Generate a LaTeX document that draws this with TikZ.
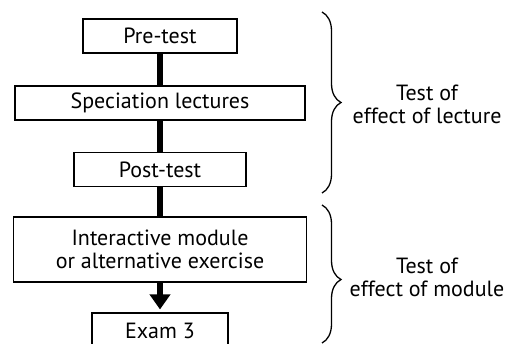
\documentclass[tikz,border=0pt]{standalone}
\usepackage{fontspec}
\setmainfont{PT Sans}
\usetikzlibrary{arrows.meta,decorations.pathreplacing}

\tikzset{
  stagebox/.style={draw, line width=1.1pt, inner sep=0pt, minimum height=34pt,
    align=center, font=\fontsize{22}{23}\selectfont},
  flowline/.style={line width=6pt},
  sidebrace/.style={decorate, decoration={brace, amplitude=19pt}, line width=1.3pt},
  notetext/.style={align=center, font=\fontsize{22}{23}\selectfont},
}

\begin{document}
\begin{tikzpicture}[x=1pt,y=-1pt]
\useasboundingbox (0,0) rectangle (513,344);

% stages of the study
\node[stagebox, minimum width=154pt] (pretest) at (160,36) {Pre-test};
\node[stagebox, minimum width=290pt] (lectures) at (160,103) {Speciation lectures};
\node[stagebox, minimum width=172pt] (posttest) at (160,169.5) {Post-test};
\node[stagebox, minimum width=293pt, minimum height=65pt] (module) at (160,249.5) {Interactive module\\or alternative exercise};
\node[stagebox, minimum width=136pt, minimum height=36pt] (exam) at (160,331) {Exam 3};

% connectors
\draw[flowline] (pretest) -- (lectures);
\draw[flowline] (lectures) -- (posttest);
\draw[flowline] (posttest) -- (module);
\draw[flowline, -{Triangle[width=20pt,length=15pt]}, shorten >=3pt] (module) -- (exam);

% braces
\coordinate (lecturetop) at (322,12);
\coordinate (lecturebot) at (322,193);
\coordinate (moduletop) at (322,205);
\coordinate (modulebot) at (322,343);
\draw[sidebrace] (lecturetop) -- (lecturebot);
\draw[sidebrace, decoration={aspect=0.54}] (moduletop) -- (modulebot);

% Text Node
\node[notetext] (lecturenote) at (427,104) {Test of\\effect of lecture};
% Text Node
\node[notetext] (modulenote) at (427,277) {Test of\\effect of module};

\end{tikzpicture}
\end{document}
